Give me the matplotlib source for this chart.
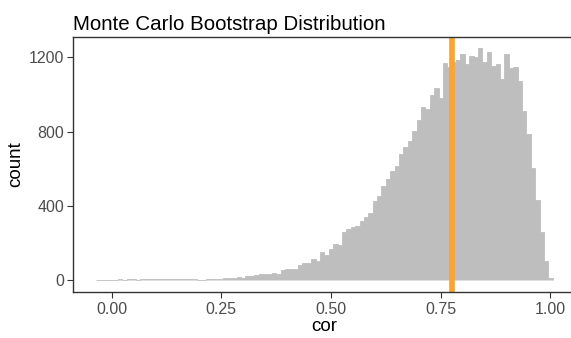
import numpy as np
import matplotlib
matplotlib.use('Agg')
import matplotlib.pyplot as plt

plt.rcParams['font.family'] = ['Liberation Sans', 'DejaVu Sans']

# bootstrap correlations, binwidth 0.01 (bin centres -0.03 ... 1.00)
binwidth = 0.01
centers = np.round(np.arange(-0.03, 1.005, binwidth), 2)
counts = [2, 3, 3, 3, 3, 4, 3, 4, 4, 3, 4, 4, 5, 4, 4, 5, 5, 4, 5, 5, 4,
          4, 7, 3, 3, 7, 7, 7, 8, 12, 13, 12, 16, 12, 21, 22, 27, 32, 32, 32,
          38, 32, 57, 59, 59, 59, 82, 93, 93,
          113, 102, 151, 135, 167, 194, 188, 258, 274, 285, 290, 317, 339, 361,
          425, 452, 506, 544, 586, 613, 681, 716, 748, 802, 861, 931, 920, 997,
          1033, 981, 1170, 1148, 1175, 1184, 1215, 1163, 1206, 1202, 1248, 1172,
          1228, 1152, 1163, 1082, 1216, 1142, 1146, 1071, 911, 786, 605, 431,
          258, 102, 11]
obs_cor = 0.7764

fig = plt.figure(figsize=(5.71, 3.38), dpi=100)
ax = fig.add_axes([0.1284, 0.137, 0.8795, 0.7544])

edges = np.append(centers - binwidth / 2, centers[-1] + binwidth / 2)
ax.stairs(counts, edges, fill=True, facecolor='#BEBEBE', edgecolor='#BEBEBE',
          linewidth=0.6)
ax.axvline(obs_cor, color='#FBA333', linewidth=4.1)

pad = 0.05 * (edges[-1] - edges[0])
ax.set_xlim(edges[0] - pad, edges[-1] + pad)
ymax = max(counts)
ax.set_ylim(-0.05 * ymax, 1.05 * ymax)

ax.set_xticks([0, 0.25, 0.5, 0.75, 1.0])
ax.set_xticklabels(['0.00', '0.25', '0.50', '0.75', '1.00'])
ax.set_yticks([0, 400, 800, 1200])

for s in ['left', 'bottom', 'top', 'right']:
    ax.spines[s].set_color('#333333')
    ax.spines[s].set_linewidth(1.0)
ax.tick_params(colors='#333333', labelcolor='#4D4D4D', labelsize=11.5, length=4, width=0.8, pad=2.5)
ax.tick_params(axis='x', pad=3.5)

ax.set_xlabel('cor', fontsize=13.5, labelpad=1)
ax.set_ylabel('count', fontsize=13.5, labelpad=3)
ax.set_title('Monte Carlo Bootstrap Distribution', fontsize=14.8, loc='left', pad=5)

fig.savefig('out.png', dpi=100)
